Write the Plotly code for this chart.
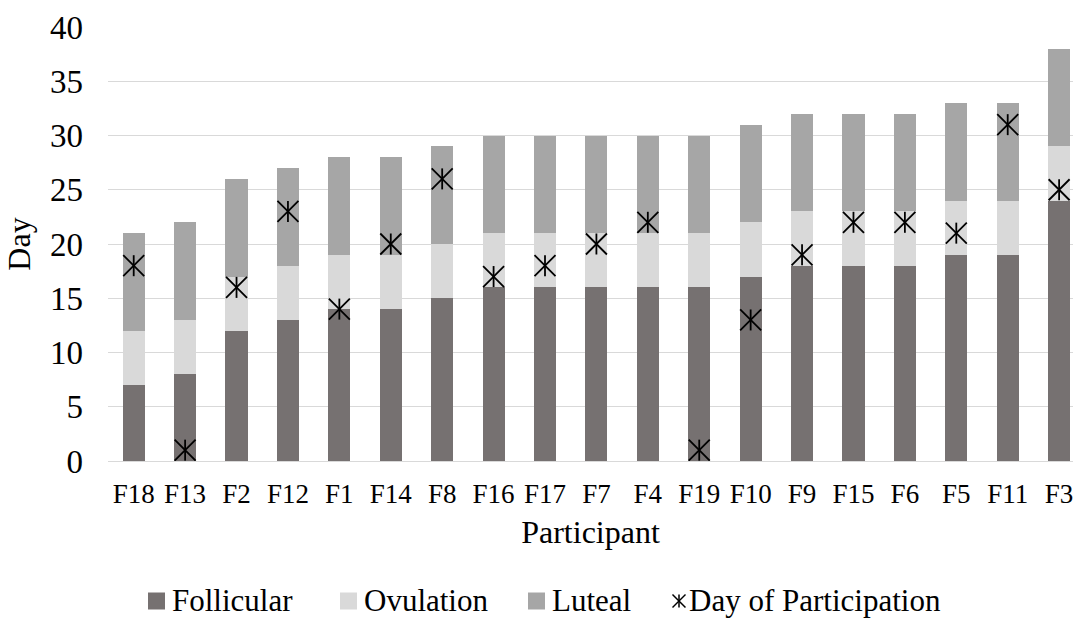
import plotly.graph_objects as go

# Cycle phase lengths (days) and the day each participant took part
participants = ["F18", "F13", "F2", "F12", "F1", "F14", "F8", "F16", "F17", "F7",
                "F4", "F19", "F10", "F9", "F15", "F6", "F5", "F11", "F3"]
follicular = [7, 8, 12, 13, 14, 14, 15, 16, 16, 16, 16, 16, 17, 18, 18, 18, 19, 19, 24]
ovulation = [5, 5, 5, 5, 5, 5, 5, 5, 5, 5, 5, 5, 5, 5, 5, 5, 5, 5, 5]
luteal = [9, 9, 9, 9, 9, 9, 9, 9, 9, 9, 9, 9, 9, 9, 9, 9, 9, 9, 9]
participation_day = [18, 1, 16, 23, 14, 20, 26, 17, 18, 20, 22, 1, 13, 19, 22, 22, 21, 31, 25]

y_ticks = [0, 5, 10, 15, 20, 25, 30, 35, 40]

FONT = "Liberation Serif, Times New Roman, serif"
BAR_W = 0.43
C_FOL, C_OVU, C_LUT = "#767171", "#D9D9D9", "#A6A6A6"

W, H = 1073, 625
ML, MR, MT, MB = 108, 0, 27, 164
PW, PH = W - ML - MR, H - MT - MB


def px(xp):
    return (xp - ML) / PW


def py(yp):
    return (H - MB - yp) / PH


fig = go.Figure()
fig.add_trace(go.Bar(x=participants, y=follicular, name="Follicular",
                     marker=dict(color=C_FOL, line_width=0), width=BAR_W))
fig.add_trace(go.Bar(x=participants, y=ovulation, name="Ovulation",
                     marker=dict(color=C_OVU, line_width=0), width=BAR_W))
fig.add_trace(go.Bar(x=participants, y=luteal, name="Luteal",
                     marker=dict(color=C_LUT, line_width=0), width=BAR_W))

# asterisk marker = diagonal cross + vertical stroke
fig.add_trace(go.Scatter(x=participants, y=participation_day, mode="markers",
                         name="Day of Participation",
                         marker=dict(symbol="x-thin-open", size=21, color="black",
                                     line=dict(color="black", width=1.8))))
fig.add_trace(go.Scatter(x=participants, y=participation_day, mode="markers",
                         hoverinfo="skip",
                         marker=dict(symbol="line-ns-open", size=15, color="black",
                                     line=dict(color="black", width=1.8))))

# legend row below the axis title
LEG_Y = 600
shapes, annotations = [], []
for x0, color, label in [(148, C_FOL, "Follicular"),
                         (340, C_OVU, "Ovulation"),
                         (528, C_LUT, "Luteal")]:
    shapes.append(dict(type="rect", xref="paper", yref="paper",
                       x0=px(x0), x1=px(x0 + 17),
                       y0=py(LEG_Y + 9.5), y1=py(LEG_Y - 7.5),
                       fillcolor=color, line_width=0))
    annotations.append(dict(text=label, xref="paper", yref="paper",
                            x=px(x0 + 22), y=py(LEG_Y), xanchor="left",
                            yanchor="middle", showarrow=False,
                            font=dict(size=31, family=FONT, color="black")))

AX, AR = 679, 6.5
AY = LEG_Y + 1
for (xa, ya, xb, yb) in [(-AR, -AR, AR, AR), (-AR, AR, AR, -AR), (0, -AR, 0, AR)]:
    shapes.append(dict(type="line", xref="paper", yref="paper",
                       x0=px(AX + xa), y0=py(AY + ya),
                       x1=px(AX + xb), y1=py(AY + yb),
                       line=dict(color="black", width=1.5)))
annotations.append(dict(text="Day of Participation", xref="paper", yref="paper",
                        x=px(687), y=py(LEG_Y), xanchor="left", yanchor="middle",
                        showarrow=False,
                        font=dict(size=31, family=FONT, color="black")))

fig.update_layout(
    width=W, height=H,
    margin=dict(l=ML, r=MR, t=MT, b=MB),
    barmode="stack",
    showlegend=False,
    plot_bgcolor="white", paper_bgcolor="white",
    font=dict(family=FONT, color="black"),
    shapes=shapes,
    annotations=annotations,
    xaxis=dict(range=[-0.5, 18.27], showgrid=False, showline=True,
               linecolor="#D9D9D9", linewidth=1.2, ticks="",
               tickfont=dict(size=27), ticklabelstandoff=8,
               title=dict(text="Participant", font=dict(size=32), standoff=13)),
    yaxis=dict(range=[0, 40], tickvals=y_ticks, showgrid=True,
               gridcolor="#D9D9D9", gridwidth=1.2, zeroline=False, ticks="",
               tickfont=dict(size=33), ticklabelstandoff=24,
               title=dict(text="Day", font=dict(size=32), standoff=9)),
)

fig.write_html("out.html")
